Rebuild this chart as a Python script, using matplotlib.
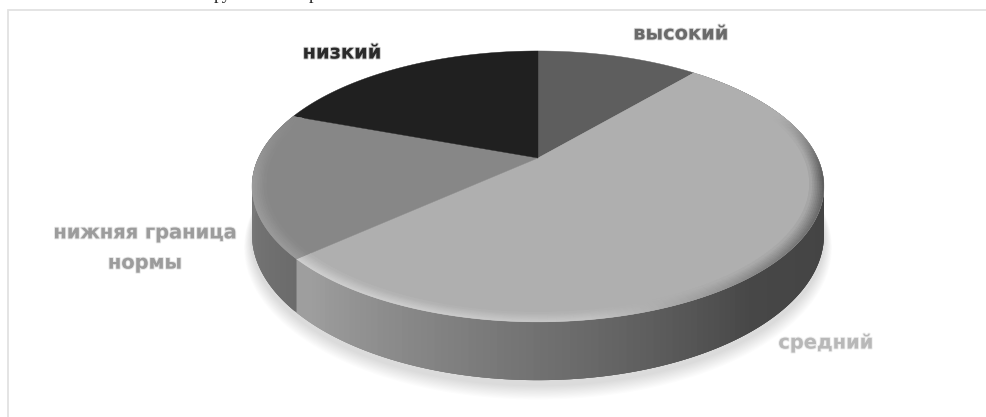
import numpy as np
import matplotlib
matplotlib.use("Agg")
import matplotlib.pyplot as plt
from matplotlib.collections import PolyCollection
from matplotlib import patheffects as pe

# ---- data (clockwise from 12 o'clock) ----
categories = ["высокий", "средний", "нижняя граница\nнормы", "низкий"]
values = [11.2, 52.1, 17.3, 19.4]
top_colors = ["#5e5e5e", "#afafaf", "#878787", "#202020"]
label_colors = ["#6a6a6a", "#b8b8b8", "#9c9c9c", "#2a2a2a"]
label_xy = [(681, 34), (826, 343), (145, 248), (342, 53)]
header_fragments = [("ру", 214), ("р", 309)]

W, H = 987, 417
fig = plt.figure(figsize=(W / 100, H / 100), dpi=100, facecolor="white")
ax = fig.add_axes([0, 0, 1, 1])
ax.set_xlim(0, W)
ax.set_ylim(H, 0)
ax.axis("off")

# projection of the tilted disc
CX, CY, A, B, K, DEPTH = 538, 158, 279.6, 129.5, 0.21, 46


def proj(theta, r=1.0, z=0.0):
    X, Y = r * np.sin(theta), r * np.cos(theta)
    w = 1 + K * Y
    return CX + A * X / w, CY - B * Y / w + z / w


def hex2rgb(c):
    return np.array(matplotlib.colors.to_rgb(c))


# frame
ax.plot([8, 8, W], [H, 10, 10], color="#e2e2e2", lw=1.3, solid_joinstyle="miter")

# soft ground shadow
t = np.linspace(0, 2 * np.pi, 361)
for i in range(12):
    s = 1 + (12 - i) * 0.0022
    x, y = proj(t, r=s, z=DEPTH + 4 + (12 - i) * 0.55)
    ax.fill(x, y, color="black", alpha=0.012, lw=0)
x, y = proj(t, r=1.002, z=DEPTH + 4)
ax.fill(x, y, color="#dcdcdc", lw=0, alpha=0.9)

# slice boundaries
edges = np.cumsum([0] + values) / np.sum(values) * 2 * np.pi

# side wall, shaded along the rim (later quads overlap earlier ones, so no seams)
side_stops = {
    1: ([np.pi / 2, 1.78, 2.45, 2.95, 3.9], ["#3c3c3c", "#434343", "#474747", "#666666", "#9e9e9e"]),
    2: ([edges[2], edges[3]], ["#6b6b6b", "#858585"]),
}
for idx, (th, co) in side_stops.items():
    th0, th1 = edges[idx], edges[idx + 1]
    ts = np.linspace(th0, th1, 160)
    step = ts[1] - ts[0]
    rgb = np.array([hex2rgb(c) for c in co])
    polys, cols = [], []
    for a in ts[:-1]:
        b = min(a + 3 * step, th1)
        xs = np.linspace(a, b, 4)
        xt, yt = proj(xs)
        xu, yu = proj(xs[::-1], z=DEPTH)
        polys.append(np.c_[np.r_[xt, xu], np.r_[yt, yu]])
        cols.append([np.interp(a + step / 2, th, rgb[:, j]) for j in range(3)])
    ax.add_collection(PolyCollection(polys, facecolors=cols, edgecolors="none", linewidths=0))

# top face
for i, c in enumerate(top_colors):
    ts = np.linspace(edges[i], edges[i + 1], 160)
    x, y = proj(ts)
    ax.fill(np.r_[CX, x], np.r_[CY, y], color=c, lw=0.3)

# bevel along the rim of the top face
bevel = {
    1: ([edges[1], 1.6, 2.4, 3.0, 3.5, edges[2]],
        ["#505050", "#555555", "#858585", "#c4c4c4", "#cccccc", "#cecece"]),
    2: ([edges[2], edges[3]], ["#9a9a9a", "#9c9c9c"]),
}
radii = np.linspace(1.0, 0.955, 9)
polys, cols = [], []
for idx, (th, co) in bevel.items():
    ts = np.linspace(edges[idx], edges[idx + 1], 130)
    step = ts[1] - ts[0]
    base = hex2rgb(top_colors[idx])
    rgb = np.array([hex2rgb(c) for c in co])
    for a in ts[:-1]:
        b = min(a + 2 * step, edges[idx + 1])
        m = a + step / 2
        rim = np.array([np.interp(m, th, rgb[:, j]) for j in range(3)])
        # the bevel fades out towards the back of the disc
        fade = np.clip((-np.cos(m) + 0.35) / 0.5, 0, 1)
        for k in range(len(radii) - 1):
            r0, r1 = radii[k], radii[k + 1]
            f = (1 - k / (len(radii) - 1)) * fade
            xa, ya = proj(a, r0)
            xb, yb = proj(b, r0)
            xc, yc = proj(b, r1 - 0.004)
            xd, yd = proj(a, r1 - 0.004)
            polys.append([(xa, ya), (xb, yb), (xc, yc), (xd, yd)])
            cols.append(base * (1 - f) + rim * f)
ax.add_collection(PolyCollection(polys, facecolors=cols, edgecolors="none", linewidths=0))

# labels
for name, c, (lx, ly) in zip(categories, label_colors, label_xy):
    ax.text(lx, ly, name, color=c, ha="center", va="center", fontsize=14,
            fontweight="bold", family="DejaVu Sans", linespacing=1.75,
            path_effects=[pe.withStroke(linewidth=1.4, foreground=c, alpha=0.25)])

# cut-off line of the surrounding document: only the descenders remain in view
for frag, fx in header_fragments:
    ax.text(fx, -1, frag, family="Liberation Serif", fontsize=13, color="#222222",
            ha="left", va="baseline", clip_on=True)

fig.savefig("out.png", dpi=100, facecolor="white")
